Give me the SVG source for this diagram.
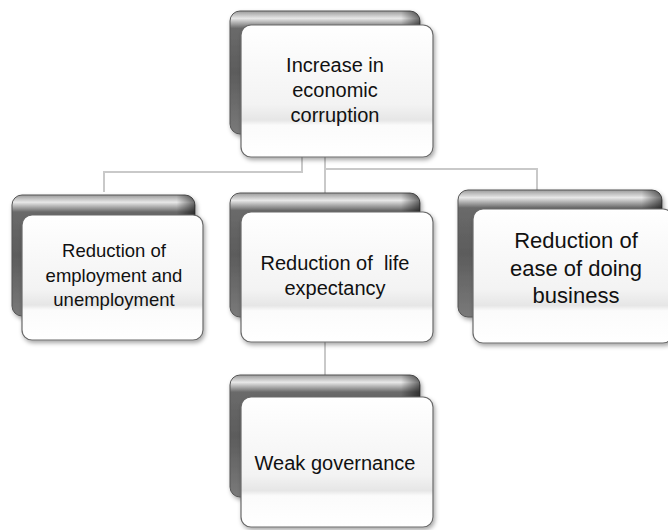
<svg xmlns="http://www.w3.org/2000/svg" width="668" height="530" viewBox="0 0 668 530">
<defs>
<linearGradient id="backG" x1="0" y1="0" x2="0" y2="1">
<stop offset="0" stop-color="#9a9a9a"/>
<stop offset="0.06" stop-color="#e8e8e8"/>
<stop offset="0.14" stop-color="#6a6a6a"/>
<stop offset="0.5" stop-color="#5c5c5c"/>
<stop offset="1" stop-color="#7a7a7a"/>
</linearGradient>
<linearGradient id="backR" x1="0" y1="0" x2="1" y2="0">
<stop offset="0" stop-color="#000" stop-opacity="0"/>
<stop offset="0.9" stop-color="#000" stop-opacity="0"/>
<stop offset="1" stop-color="#000" stop-opacity="0.55"/>
</linearGradient>
<linearGradient id="frontG" x1="0" y1="0" x2="0" y2="1">
<stop offset="0" stop-color="#ffffff"/>
<stop offset="0.6" stop-color="#f3f3f3"/>
<stop offset="0.72" stop-color="#e6e6e6"/>
<stop offset="0.76" stop-color="#fbfbfb"/>
<stop offset="1" stop-color="#ffffff"/>
</linearGradient>
<filter id="sh" x="-10%" y="-10%" width="125%" height="130%">
<feDropShadow dx="1.5" dy="2.5" stdDeviation="2" flood-color="#000" flood-opacity="0.35"/>
</filter>
</defs>
<style>
.back{fill:url(#backG);stroke:#555;stroke-width:1;filter:url(#sh)}
.backr{fill:url(#backR);stroke:none}
.front{fill:url(#frontG);stroke:#6a6a6a;stroke-width:1.2;filter:url(#sh)}
.conn{fill:none;stroke:#c9c9c9;stroke-width:2}
text{font-family:"Liberation Sans",Arial,sans-serif;fill:#111;text-anchor:middle}
</style>
<g id="connectors">
<polyline class="conn" points="302,150 302,172 104,172 104,192"/>
<polyline class="conn" points="325,150 325,195"/>
<polyline class="conn" points="325,169 537,169 537,190"/>
<polyline class="conn" points="325,335 325,385"/>
</g>
<g id="node-top">
<rect class="back" x="230" y="11" width="190" height="123" rx="10"/>
<rect class="backr" x="230" y="11" width="190" height="123" rx="10"/>
<rect class="front" x="241" y="25" width="192" height="132" rx="10"/>
<text font-size="20"><tspan x="335" y="72">Increase in</tspan><tspan x="335" y="97">economic</tspan><tspan x="335" y="122">corruption</tspan></text>
</g>
<g id="node-left">
<rect class="back" x="12" y="195" width="183" height="121" rx="10"/>
<rect class="backr" x="12" y="195" width="183" height="121" rx="10"/>
<rect class="front" x="22" y="215" width="181" height="125" rx="10"/>
<text font-size="18.5"><tspan x="114" y="257">Reduction of</tspan><tspan x="114" y="282">employment and</tspan><tspan x="114" y="306">unemployment</tspan></text>
</g>
<g id="node-middle">
<rect class="back" x="230" y="193" width="190" height="124" rx="10"/>
<rect class="backr" x="230" y="193" width="190" height="124" rx="10"/>
<rect class="front" x="241" y="212" width="192" height="130" rx="10"/>
<text font-size="20" xml:space="preserve"><tspan x="335" y="270">Reduction of  life</tspan><tspan x="335" y="295">expectancy</tspan></text>
</g>
<g id="node-right">
<rect class="back" x="458" y="190" width="204" height="127" rx="10"/>
<rect class="backr" x="458" y="190" width="204" height="127" rx="10"/>
<rect class="front" x="473" y="209" width="200" height="134" rx="10"/>
<text font-size="22"><tspan x="576" y="248">Reduction of</tspan><tspan x="576" y="276">ease of doing</tspan><tspan x="576" y="303">business</tspan></text>
</g>
<g id="node-bottom">
<rect class="back" x="230" y="375" width="190" height="122" rx="10"/>
<rect class="backr" x="230" y="375" width="190" height="122" rx="10"/>
<rect class="front" x="241" y="397" width="192" height="130" rx="10"/>
<text font-size="20"><tspan x="335" y="470">Weak governance</tspan></text>
</g>
</svg>
